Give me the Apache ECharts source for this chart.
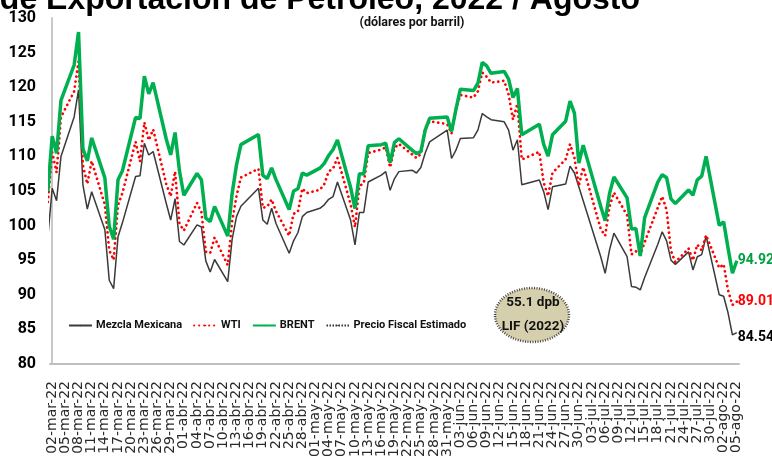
<!DOCTYPE html>
<html>
<head>
<meta charset="utf-8">
<script src="https://cdn.jsdelivr.net/npm/echarts@6/dist/echarts.min.js"></script>
<style>
  html, body { margin: 0; padding: 0; background: #fff; }
  #chart { width: 772px; height: 474px; }
</style>
</head>
<body>
<div id="chart"></div>
<script>
// etiquetas del eje x (cada 3 dias)
const etiquetasX = ['02-mar-22','05-mar-22','08-mar-22','11-mar-22','14-mar-22','17-mar-22','20-mar-22','23-mar-22','26-mar-22','29-mar-22',
  '01-abr-22','04-abr-22','07-abr-22','10-abr-22','13-abr-22','16-abr-22','19-abr-22','22-abr-22','25-abr-22','28-abr-22',
  '01-may-22','04-may-22','07-may-22','10-may-22','13-may-22','16-may-22','19-may-22','22-may-22','25-may-22','28-may-22','31-may-22',
  '03-jun-22','06-jun-22','09-jun-22','12-jun-22','15-jun-22','18-jun-22','21-jun-22','24-jun-22','27-jun-22','30-jun-22',
  '03-jul-22','06-jul-22','09-jul-22','12-jul-22','15-jul-22','18-jul-22','21-jul-22','24-jul-22','27-jul-22','30-jul-22',
  '02-ago-22','05-ago-22']

// dias habiles
const fechas = [
  '2022-03-01','2022-03-02','2022-03-03','2022-03-04','2022-03-07','2022-03-08','2022-03-09','2022-03-10','2022-03-11','2022-03-14','2022-03-15','2022-03-16','2022-03-17','2022-03-18','2022-03-21','2022-03-22','2022-03-23','2022-03-24','2022-03-25','2022-03-28','2022-03-29','2022-03-30','2022-03-31',
  '2022-04-01','2022-04-04','2022-04-05','2022-04-06','2022-04-07','2022-04-08','2022-04-11','2022-04-12','2022-04-13','2022-04-14','2022-04-18','2022-04-19','2022-04-20','2022-04-21','2022-04-22','2022-04-25','2022-04-26','2022-04-27','2022-04-28','2022-04-29',
  '2022-05-02','2022-05-03','2022-05-04','2022-05-05','2022-05-06','2022-05-09','2022-05-10','2022-05-11','2022-05-12','2022-05-13','2022-05-16','2022-05-17','2022-05-18','2022-05-19','2022-05-20','2022-05-23','2022-05-24','2022-05-25','2022-05-26','2022-05-27','2022-05-31',
  '2022-06-01','2022-06-02','2022-06-03','2022-06-06','2022-06-07','2022-06-08','2022-06-09','2022-06-10','2022-06-13','2022-06-14','2022-06-15','2022-06-16','2022-06-17','2022-06-21','2022-06-22','2022-06-23','2022-06-24','2022-06-27','2022-06-28','2022-06-29','2022-06-30',
  '2022-07-01','2022-07-05','2022-07-06','2022-07-07','2022-07-08','2022-07-11','2022-07-12','2022-07-13','2022-07-14','2022-07-15','2022-07-18','2022-07-19','2022-07-20','2022-07-21','2022-07-22','2022-07-25','2022-07-26','2022-07-27','2022-07-28','2022-07-29',
  '2022-08-01','2022-08-02','2022-08-03','2022-08-04','2022-08-05'
]

const brent = [
  104.97,112.93,110.46,118.11,123.21,127.98,111.14,109.33,112.67,106.90,99.91,98.02,106.64,107.93,115.62,115.48,121.60,119.03,120.65,112.48,110.23,113.45,107.91,
  104.39,107.53,106.64,101.07,100.58,102.78,98.48,104.64,108.78,111.70,113.16,107.25,106.80,108.33,106.65,102.32,104.99,105.32,107.59,107.30,
  108.30,109.00,110.14,111.00,112.39,105.50,102.46,107.51,107.45,111.55,111.70,111.90,109.11,112.04,112.55,110.90,110.40,110.70,113.80,115.50,115.70,
  113.60,116.80,119.72,119.51,120.57,123.58,123.07,122.01,122.27,121.17,118.51,119.81,113.12,114.65,111.74,110.05,113.12,115.09,117.98,116.26,109.03,
  111.63,102.77,100.69,104.65,107.02,104.00,99.49,99.57,95.60,101.16,106.27,107.35,106.92,103.86,103.20,105.15,104.40,106.62,107.14,110.01,
  100.03,100.54,96.78,93.12,94.92
]

const wti = [
  103.41,110.60,107.67,115.68,119.40,123.70,108.70,106.02,109.33,103.01,96.44,95.04,102.98,104.70,112.12,109.27,114.93,112.34,113.90,105.96,104.24,107.82,100.28,
  99.27,103.28,101.96,96.23,96.03,98.26,94.29,100.60,104.25,106.95,108.21,102.56,102.75,103.79,102.07,98.54,101.70,102.02,105.36,104.69,
  105.17,106.00,107.81,108.26,109.77,103.09,99.76,105.71,106.13,110.49,111.00,111.30,108.40,111.20,111.80,110.29,109.77,110.33,114.09,115.07,114.67,
  113.30,116.87,118.87,118.50,119.41,122.11,121.51,120.67,120.93,118.93,115.31,117.59,109.56,110.65,106.19,104.27,107.62,109.57,111.76,109.78,105.76,
  108.43,99.50,98.53,102.73,104.79,101.50,95.84,96.30,95.78,97.59,102.60,104.22,102.26,96.35,94.70,96.70,94.98,97.26,96.42,98.62,
  93.89,94.42,90.66,88.54,89.01
]

const mezcla = [
  98.3,105.4,103.6,110.0,115.7,119.6,105.9,102.4,104.9,99.4,92.1,90.9,98.4,100.4,107.1,107.2,111.9,110.2,110.7,103.2,100.8,103.9,97.7,
  97.2,100.1,99.8,94.9,93.3,95.1,91.9,98.0,101.3,102.8,105.4,100.8,100.2,102.5,100.3,96.0,97.8,99.0,101.3,101.9,
  102.5,103.0,103.8,104.2,106.3,100.8,97.2,101.9,101.9,106.3,107.3,107.8,105.1,106.8,107.8,108.0,107.6,108.4,110.5,112.1,113.8,
  109.7,110.9,112.6,112.7,113.8,116.2,115.7,115.3,115.0,113.8,110.9,112.4,105.9,106.6,104.9,102.3,105.6,106.0,108.6,107.6,105.6,
  103.6,95.5,93.1,96.5,98.9,95.5,91.2,91.1,90.7,92.5,97.3,99.1,97.8,95.0,94.4,96.2,93.6,95.5,95.8,98.5,
  90.0,89.8,87.4,84.2,84.54
]

// precio fiscal estimado (LIF 2022)
const fechasFiscal = ['2022-03-02', '2022-08-05']
const precioFiscal = [55.1, 55.1]

const fTexto = "Roboto, 'Liberation Sans', sans-serif"
const inicio = Date.UTC(2022, 2, 2)
const totalDias = 157

function dia(f) {
  const p = f.split('-').map(Number)
  return Math.round((Date.UTC(p[0], p[1] - 1, p[2]) - inicio) / 864e5)
}
function serie(fs, vals) {
  return fs.map((f, i) => [dia(f), vals[i]])
}

const categorias = []
for (let i = 0; i < totalDias; i++) {
  categorias.push(i % 3 === 0 ? etiquetasX[i / 3] : '')
}

// dos ejes de categorias superpuestos para que no se oculten etiquetas
function ejeFechas(resto, conLinea) {
  return {
    type: 'category',
    position: 'bottom',
    offset: 0,
    data: categorias,
    boundaryGap: true,
    axisLine: { show: conLinea, lineStyle: { color: '#bfbfbf', width: 2 } },
    axisTick: { show: false },
    axisLabel: {
      interval: idx => idx % 6 === resto,
      rotate: 90,
      margin: 17,
      fontFamily: 'DejaVu Sans',
      fontSize: 14,
      color: '#2a2a2a'
    }
  }
}

const chart = echarts.init(document.getElementById('chart'))
chart.setOption({
  animation: false,
  backgroundColor: '#fff',
  grid: { left: 50, right: 33, top: 18, bottom: 110 },
  graphic: [
    {
      type: 'text', x: 640, y: 0,
      style: {
        text: 'Precio de la Mezcla Mexicana de Exportación de Petróleo, 2022 / Agosto',
        align: 'right', verticalAlign: 'middle',
        font: 'bold 32px "Liberation Sans", Arial, sans-serif', fill: '#000'
      }
    },
    {
      type: 'text', x: 412, y: 23,
      style: {
        text: '(dólares por barril)', align: 'center', verticalAlign: 'middle',
        font: 'bold 12.5px ' + fTexto, fill: '#111'
      }
    },
    {
      type: 'ellipse',
      shape: { cx: 532, cy: 315, rx: 37, ry: 27 },
      style: { fill: '#d6cfae', stroke: '#4a4a4a', lineWidth: 2.5, lineDash: [1, 1.5] },
      z: 10
    },
    {
      type: 'text', x: 533, y: 315, z: 11,
      style: {
        text: '55.1 dpb\nLIF (2022)', align: 'center', verticalAlign: 'middle',
        font: 'bold 13.5px ' + fTexto, lineHeight: 24, fill: '#111'
      }
    }
  ],
  legend: {
    left: 63,
    top: 315,
    itemWidth: 23,
    itemHeight: 2,
    itemGap: 11,
    textStyle: { fontFamily: fTexto, fontSize: 11, fontWeight: 'bold', color: '#111', padding: [0, 0, 0, -1] },
    data: ['Mezcla Mexicana', 'WTI', 'BRENT', 'Precio Fiscal Estimado']
  },
  xAxis: [
    ejeFechas(0, true),
    ejeFechas(3, false),
    {
      type: 'value',
      min: -0.5,
      max: totalDias - 0.5,
      show: false
    }
  ],
  yAxis: {
    type: 'value',
    min: 80,
    max: 130,
    interval: 5,
    splitLine: { show: false },
    axisTick: { show: false },
    axisLine: { show: true, lineStyle: { color: '#c8c8c8', width: 2 } },
    axisLabel: { margin: 14, fontFamily: fTexto, fontSize: 16, fontWeight: 'bold', color: '#000' }
  },
  series: [
    {
      name: 'Mezcla Mexicana',
      type: 'line',
      xAxisIndex: 2,
      symbol: 'none',
      data: serie(fechas, mezcla),
      lineStyle: { color: '#3a3a3a', width: 1.5 },
      itemStyle: { color: '#3a3a3a' },
      endLabel: {
        show: true, distance: 1, offset: [0, 5],
        formatter: p => p.value[1].toFixed(2),
        fontFamily: fTexto, fontSize: 14, fontWeight: 'bold', color: '#000'
      },
      z: 3
    },
    {
      name: 'WTI',
      type: 'line',
      xAxisIndex: 2,
      symbol: 'none',
      data: serie(fechas, wti),
      lineStyle: { color: '#ff0000', width: 2.7, type: [0.1, 4.9], cap: 'round' },
      itemStyle: { color: '#ff0000' },
      endLabel: {
        show: true, distance: 1,
        formatter: p => p.value[1].toFixed(2),
        fontFamily: fTexto, fontSize: 14, fontWeight: 'bold', color: '#ff0000'
      },
      z: 4
    },
    {
      name: 'BRENT',
      type: 'line',
      xAxisIndex: 2,
      symbol: 'none',
      data: serie(fechas, brent),
      lineStyle: { color: '#00b050', width: 3.5 },
      itemStyle: { color: '#00b050' },
      endLabel: {
        show: true, distance: 1,
        formatter: p => p.value[1].toFixed(2),
        fontFamily: fTexto, fontSize: 14, fontWeight: 'bold', color: '#00a040'
      },
      z: 5
    },
    {
      name: 'Precio Fiscal Estimado',
      type: 'line',
      xAxisIndex: 2,
      symbol: 'none',
      data: serie(fechasFiscal, precioFiscal),
      lineStyle: { color: '#333', width: 1.5, type: [1.5, 1.5] },
      itemStyle: { color: '#333' }
    }
  ]
})
</script>
</body>
</html>
